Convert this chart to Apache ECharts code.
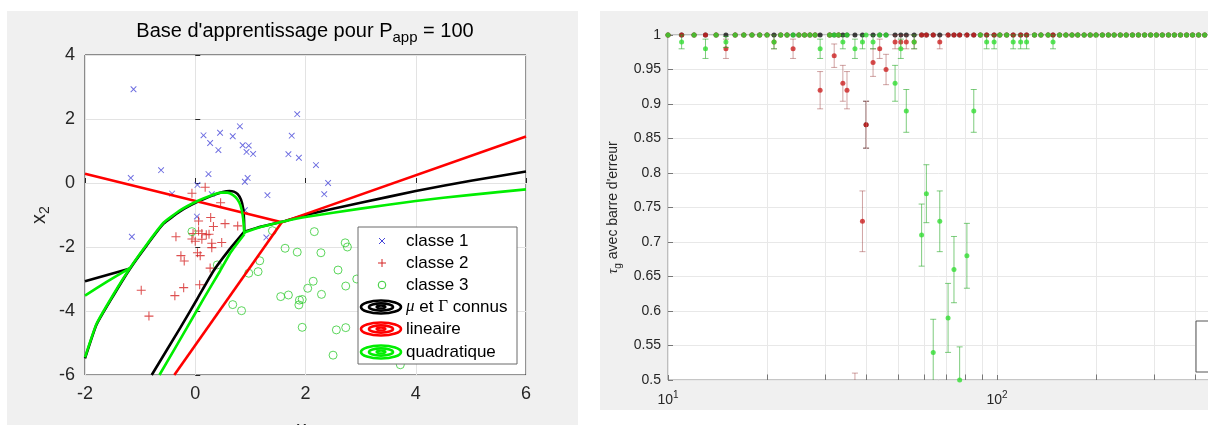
<!DOCTYPE html>
<html lang="fr">
<head>
<meta charset="utf-8">
<title>Base d'apprentissage et taux de generalisation</title>
</head>
<body style="margin: 0; background: #fff">
<div id="container" style="width: 1208px; height: 425px"></div>

<script type="text/javascript" src="https://cdn.jsdelivr.net/npm/echarts@6/dist/echarts.min.js"></script>

<script type="text/javascript">
var dom = document.getElementById('container');
var myChart = echarts.init(dom, null, { renderer: 'canvas' });

// ---------- left figure : base d'apprentissage (x1, x2) ----------
var classe1 = [
    [-1.12, 2.93], [1.85, 2.15], [0.81, 1.77], [0.15, 1.49], [0.45, 1.57], [0.68, 1.46],
    [1.75, 1.48], [0.27, 1.25], [0.86, 1.18], [0.97, 1.17], [0.42, 1.03], [0.93, 0.97],
    [1.05, 0.91], [1.69, 0.90], [1.88, 0.79], [2.19, 0.56], [-1.17, 0.16], [-0.62, 0.40],
    [0.24, 0.28], [0.95, 0.16], [0.90, 0.04], [2.41, 0.0], [0.04, -0.06], [-0.42, -0.33],
    [0.30, -0.35], [1.31, -0.38], [2.34, -0.35], [0.90, -0.85], [0.03, -1.05],
    [-1.15, -1.68], [1.29, -1.70]
];
var classe2 = [
    [0.18, -0.13], [-0.06, -0.32], [0.46, -0.62], [0.28, -1.08], [0.06, -1.19], [0.54, -1.27],
    [0.77, -1.34], [0.33, -1.36], [0.06, -1.50], [-0.35, -1.68], [-0.04, -1.58], [0.12, -1.58],
    [0.20, -1.62], [0.25, -1.60], [-0.06, -1.75], [0.0, -1.82], [0.12, -1.76], [0.30, -1.88],
    [0.48, -1.86], [0.30, -2.02], [0.04, -2.18], [0.09, -2.27], [-0.26, -2.27], [-0.20, -2.44],
    [0.27, -2.66], [-0.98, -3.35], [-0.21, -3.27], [-0.37, -3.52], [0.08, -3.18], [-0.84, -4.16]
];
var classe3 = [
    [-0.06, -1.52], [1.40, -1.49], [2.16, -1.52], [1.63, -2.04], [1.85, -2.16], [2.28, -2.18],
    [2.72, -1.87], [2.76, -2.0], [0.40, -2.56], [1.17, -2.43], [0.97, -2.82], [1.14, -2.77],
    [2.59, -2.72], [2.93, -3.0], [2.14, -3.07], [2.04, -3.29], [2.73, -3.22], [2.29, -3.48],
    [1.55, -3.55], [1.69, -3.50], [1.89, -3.66], [1.94, -3.64], [1.88, -3.81], [0.68, -3.80],
    [0.84, -3.99], [1.94, -4.51], [2.56, -4.59], [2.73, -4.52], [2.50, -5.38], [3.72, -5.68],
    [3.3, -2.6], [3.5, -3.9]
];

// frontieres de decision ("mu et Gamma connus")
var connusBoucle = [[-2, -5.48], [-1.79, -4.42], [-1.49, -3.53], [-1.18, -2.67], [-0.88, -1.95],
    [-0.58, -1.28], [-0.27, -0.88], [0.03, -0.6], [0.33, -0.38], [0.5, -0.28], [0.62, -0.25],
    [0.7, -0.27], [0.77, -0.35], [0.83, -0.52], [0.87, -0.8], [0.885, -1.15], [0.89, -1.52]];
var connusBas = [[0.89, -1.52], [0.6, -2.12], [0.33, -2.75], [0.03, -3.64], [-0.27, -4.52], [-0.79, -6]];
var connusGauche = [[-1.18, -2.67], [-2, -3.07]];
var connusDroite = [[0.89, -1.52], [1.2, -1.36], [1.6, -1.2], [2, -1.0], [3, -0.62], [4, -0.25], [5, 0.07], [6, 0.36]];

// lineaire
var linGauche = [[-2, 0.29], [1.57, -1.23]];
var linDroite = [[1.57, -1.23], [6, 1.45]];
var linBas = [[1.57, -1.23], [-0.38, -6]];

// quadratique
var quadBoucle = [[-2, -5.45], [-1.79, -4.4], [-1.49, -3.5], [-1.18, -2.65], [-0.88, -1.92],
    [-0.58, -1.25], [-0.27, -0.85], [0.03, -0.57], [0.3, -0.38], [0.46, -0.3], [0.58, -0.3],
    [0.68, -0.37], [0.76, -0.5], [0.82, -0.7], [0.86, -1.0], [0.88, -1.3], [0.89, -1.6]];
var quadBas = [[0.89, -1.6], [0.65, -2.15], [0.45, -2.75], [0.15, -3.62], [-0.15, -4.52], [-0.65, -6]];
var quadGauche = [[-1.18, -2.65], [-1.6, -3.08], [-2, -3.52]];
var quadDroite = [[0.89, -1.55], [1.2, -1.37], [1.6, -1.2], [2, -1.06], [3, -0.8], [4, -0.56], [5, -0.37], [6, -0.2]];

// ---------- right figure : tau_g en fonction de P_app ----------
var pApp = [
    10, 11, 12, 13, 14, 15, 16, 17, 18, 19,
    20, 21, 22, 23, 24, 25, 26, 27, 28, 29,
    31, 32, 33, 34, 35, 37, 39, 40, 42, 44,
    46, 49, 51, 53, 56, 59, 61, 64, 67, 71,
    74, 77, 81, 85, 89, 93, 98, 102, 107, 112,
    118, 123, 130, 136, 143, 148, 155, 162, 169, 176,
    184, 192, 200, 209, 218, 227, 237, 247, 258, 269,
    281, 293, 305, 318, 332, 346, 361, 377, 393, 410,
    428, 446
];
var tauConnus = [
    1, 1, 1, 1, 1, 1, 1, 1, 1, 1,
    1, 1, 1, 1, 1, 1, 1, 1, 1, 1,
    1, 1, 1, 1, 1, 1, 1, 0.87, 1, 1,
    1, 1, 1, 1, 1, 1, 1, 1, 1, 1,
    1, 1, 1, 1, 1, 1, 1, 1, 1, 1,
    1, 1, 1, 1, 1, 1, 1, 1, 1, 1,
    1, 1, 1, 1, 1, 1, 1, 1, 1, 1,
    1, 1, 1, 1, 1, 1, 1, 1, 1, 1,
    1, 1
];
var errConnus = [
    0, 0, 0, 0, 0, 0, 0, 0, 0, 0,
    0, 0, 0, 0, 0, 0, 0, 0, 0, 0,
    0, 0, 0, 0, 0, 0, 0, 0.034, 0, 0,
    0, 0, 0, 0, 0, 0, 0, 0, 0, 0,
    0, 0, 0, 0, 0, 0, 0, 0, 0, 0,
    0, 0, 0, 0, 0, 0, 0, 0, 0, 0,
    0, 0, 0, 0, 0, 0, 0, 0, 0, 0,
    0, 0, 0, 0, 0, 0, 0, 0, 0, 0,
    0, 0
];
var tauLin = [
    1, 1, 1, 1, 1, 0.98, 1, 1, 1, 1,
    1, 0.99, 1, 1, 0.98, 1, 1, 1, 1, 0.92,
    1, 0.97, 1, 0.93, 0.92, 0.46, 0.73, 0.87, 0.96, 0.98,
    0.95, 0.99, 0.99, 0.99, 0.99, 1, 1, 1, 0.99, 1,
    1, 1, 1, 1, 1, 1, 1, 1, 1, 1,
    1, 1, 1, 1, 1, 1, 1, 1, 1, 1,
    1, 1, 1, 1, 1, 1, 1, 1, 1, 1,
    1, 1, 1, 1, 1, 1, 1, 1, 1, 1,
    1, 1
];
var errLin = [
    0, 0, 0, 0, 0, 0.014, 0, 0, 0, 0,
    0, 0.01, 0, 0, 0.014, 0, 0, 0, 0, 0.027,
    0, 0.017, 0, 0.026, 0.027, 0.05, 0.044, 0.034, 0.02, 0.014,
    0.022, 0.01, 0.01, 0.01, 0.01, 0, 0, 0, 0.01, 0,
    0, 0, 0, 0, 0, 0, 0, 0, 0, 0,
    0, 0, 0, 0, 0, 0, 0, 0, 0, 0,
    0, 0, 0, 0, 0, 0, 0, 0, 0, 0,
    0, 0, 0, 0, 0, 0, 0, 0, 0, 0,
    0, 0
];
var tauQuad = [
    1, 0.99, 1, 0.98, 1, 0.99, 1, 1, 1, 1,
    1, 0.99, 1, 1, 1, 1, 1, 1, 1, 0.98,
    1, 1, 1, 0.99, 1, 0.98, 0.99, 1, 0.99, 1,
    1, 0.93, 0.98, 0.89, 0.99, 0.71, 0.77, 0.54, 0.73, 0.59,
    0.66, 0.50, 0.68, 0.89, 1, 0.99, 0.99, 1, 1, 0.99,
    0.99, 0.99, 1, 1, 1, 0.99, 1, 1, 1, 1,
    1, 1, 1, 1, 1, 1, 1, 1, 1, 1,
    1, 1, 1, 1, 1, 1, 1, 1, 1, 1,
    1, 1
];
var errQuad = [
    0, 0.01, 0, 0.014, 0, 0.008, 0, 0, 0, 0,
    0, 0.01, 0, 0, 0, 0, 0, 0, 0, 0.014,
    0, 0, 0, 0.01, 0, 0.014, 0.01, 0, 0.01, 0,
    0, 0.026, 0.014, 0.031, 0.01, 0.045, 0.042, 0.048, 0.044, 0.05,
    0.048, 0.048, 0.047, 0.031, 0, 0.01, 0.01, 0, 0, 0.01,
    0.01, 0.01, 0, 0, 0, 0.01, 0, 0, 0, 0,
    0, 0, 0, 0, 0, 0, 0, 0, 0, 0,
    0, 0, 0, 0, 0, 0, 0, 0, 0, 0,
    0, 0
];
var xTicksMineurs = [20, 30, 40, 50, 60, 70, 80, 90, 200, 300, 400, 500, 600, 700, 800, 900];

var SANS = '"Liberation Sans", Arial, Helvetica, sans-serif';
var SERIF = '"Liberation Serif", "DejaVu Serif", serif';

var plusPath = 'path://M-0.7,-6L0.7,-6L0.7,-0.7L6,-0.7L6,0.7L0.7,0.7L0.7,6L-0.7,6L-0.7,0.7L-6,0.7L-6,-0.7L-0.7,-0.7Z';

function points(ys, errs) {
    return pApp.map(function (p, i) {
        return errs ? [p, ys[i], errs[i]] : [p, ys[i]];
    });
}

// error bar drawn through the axes of the second grid
function errorBar(color) {
    return function (params, api) {
        var x = api.value(0), y = api.value(1), e = api.value(2);
        if (!e) return null;
        var cs = params.coordSys;
        var top = api.coord([x, y + e]);
        var bot = api.coord([x, y - e]);
        var yMin = cs.y, yMax = cs.y + cs.height;
        var y1 = Math.max(top[1], yMin), y2 = Math.min(bot[1], yMax);
        var style = { stroke: color, lineWidth: 1 };
        var children = [];
        if (y1 < y2) {
            children.push({ type: 'line', shape: { x1: top[0], y1: y1, x2: top[0], y2: y2 }, style: style });
        }
        if (top[1] >= yMin && top[1] <= yMax) {
            children.push({ type: 'line', shape: { x1: top[0] - 3, y1: top[1], x2: top[0] + 3, y2: top[1] }, style: style });
        }
        if (bot[1] >= yMin && bot[1] <= yMax) {
            children.push({ type: 'line', shape: { x1: bot[0] - 3, y1: bot[1], x2: bot[0] + 3, y2: bot[1] }, style: style });
        }
        return { type: 'group', children: children };
    };
}

function boundary(data, color, smooth) {
    return {
        type: 'line', xAxisIndex: 0, yAxisIndex: 0, data: data,
        showSymbol: false, smooth: smooth ? 0.15 : false, silent: true,
        lineStyle: { color: color, width: 2.6 }, z: 3
    };
}

var minorLines = xTicksMineurs.map(function (v) { return { xAxis: v }; });
var minorTicks = xTicksMineurs.map(function (v) { return [{ coord: [v, 0.5] }, { coord: [v, 0.508] }]; });

var option = {
    animation: false,
    backgroundColor: '#fff',
    graphic: [
        { type: 'rect', shape: { x: 7, y: 11, width: 571, height: 414 }, style: { fill: '#f0f0f0' }, z: -100 },
        { type: 'rect', shape: { x: 600, y: 11, width: 608, height: 399 }, style: { fill: '#f0f0f0' }, z: -100 },
        {
            type: 'text', z: 50,
            style: {
                x: 305, y: 31, textAlign: 'center', textVerticalAlign: 'middle',
                text: "Base d'apprentissage pour P{s|app} = 100",
                font: '20px ' + SANS, fill: '#000',
                rich: { s: { fontSize: 15, fontFamily: SANS, padding: [14, 0, 0, 0] } }
            }
        },
        // legende gauche
        { type: 'rect', shape: { x: 358, y: 227, width: 159, height: 137 }, style: { fill: '#fff', stroke: '#6b6b6b', lineWidth: 1 }, z: 100 },
        { type: 'line', shape: { x1: 379, y1: 238, x2: 385, y2: 244 }, style: { stroke: '#4646d8', lineWidth: 1 }, z: 101 },
        { type: 'line', shape: { x1: 379, y1: 244, x2: 385, y2: 238 }, style: { stroke: '#4646d8', lineWidth: 1 }, z: 101 },
        { type: 'line', shape: { x1: 378, y1: 263, x2: 386, y2: 263 }, style: { stroke: '#d42424', lineWidth: 1 }, z: 101 },
        { type: 'line', shape: { x1: 382, y1: 259, x2: 382, y2: 267 }, style: { stroke: '#d42424', lineWidth: 1 }, z: 101 },
        { type: 'circle', shape: { cx: 382, cy: 285, r: 3.8 }, style: { fill: 'none', stroke: '#33cc33', lineWidth: 1 }, z: 101 },
        { type: 'ellipse', shape: { cx: 381, cy: 307, rx: 20, ry: 6.5 }, style: { fill: 'none', stroke: '#000', lineWidth: 2.6 }, z: 101 },
        { type: 'ellipse', shape: { cx: 381, cy: 307, rx: 12, ry: 3.6 }, style: { fill: 'none', stroke: '#000', lineWidth: 2.6 }, z: 101 },
        { type: 'ellipse', shape: { cx: 381, cy: 307, rx: 4.5, ry: 1.3 }, style: { fill: 'none', stroke: '#000', lineWidth: 2.2 }, z: 101 },
        { type: 'ellipse', shape: { cx: 381, cy: 329, rx: 20, ry: 6.5 }, style: { fill: 'none', stroke: '#ff0000', lineWidth: 2.6 }, z: 101 },
        { type: 'ellipse', shape: { cx: 381, cy: 329, rx: 12, ry: 3.6 }, style: { fill: 'none', stroke: '#ff0000', lineWidth: 2.6 }, z: 101 },
        { type: 'ellipse', shape: { cx: 381, cy: 329, rx: 4.5, ry: 1.3 }, style: { fill: 'none', stroke: '#ff0000', lineWidth: 2.2 }, z: 101 },
        { type: 'ellipse', shape: { cx: 381, cy: 352, rx: 20, ry: 6.5 }, style: { fill: 'none', stroke: '#00ee00', lineWidth: 2.6 }, z: 101 },
        { type: 'ellipse', shape: { cx: 381, cy: 352, rx: 12, ry: 3.6 }, style: { fill: 'none', stroke: '#00ee00', lineWidth: 2.6 }, z: 101 },
        { type: 'ellipse', shape: { cx: 381, cy: 352, rx: 4.5, ry: 1.3 }, style: { fill: 'none', stroke: '#00ee00', lineWidth: 2.2 }, z: 101 },
        { type: 'text', z: 101, style: { x: 406, y: 241, text: 'classe 1', font: '17px ' + SANS, fill: '#000', textVerticalAlign: 'middle' } },
        { type: 'text', z: 101, style: { x: 406, y: 263, text: 'classe 2', font: '17px ' + SANS, fill: '#000', textVerticalAlign: 'middle' } },
        { type: 'text', z: 101, style: { x: 406, y: 285, text: 'classe 3', font: '17px ' + SANS, fill: '#000', textVerticalAlign: 'middle' } },
        {
            type: 'text', z: 101,
            style: {
                x: 406, y: 307, textVerticalAlign: 'middle', font: '17px ' + SANS, fill: '#000',
                text: '{m|\u03bc} et {g|\u0393} connus',
                rich: {
                    m: { fontFamily: SERIF, fontStyle: 'italic', fontSize: 17 },
                    g: { fontFamily: SERIF, fontSize: 17 }
                }
            }
        },
        { type: 'text', z: 101, style: { x: 406, y: 329, text: 'lineaire', font: '17px ' + SANS, fill: '#000', textVerticalAlign: 'middle' } },
        { type: 'text', z: 101, style: { x: 406, y: 352, text: 'quadratique', font: '17px ' + SANS, fill: '#000', textVerticalAlign: 'middle' } },
        // legende droite (coupee par le bord)
        { type: 'rect', shape: { x: 1196, y: 321, width: 60, height: 51 }, style: { fill: '#fff', stroke: '#555', lineWidth: 1 }, z: 100 }
    ],
    grid: [
        {
            left: 85, top: 55, width: 441, height: 320, outerBoundsMode: 'none',
            show: true, backgroundColor: '#fff', borderColor: '#262626', borderWidth: 1
        },
        {
            left: 668, top: 35, width: 658, height: 345, outerBoundsMode: 'none',
            show: true, backgroundColor: '#fff', borderColor: '#8c8c8c', borderWidth: 1
        }
    ],
    xAxis: [
        {
            type: 'value', gridIndex: 0, min: -2, max: 6, interval: 2,
            name: '{n|x}{s|1}', nameLocation: 'middle', nameGap: 41,
            nameTextStyle: {
                fontSize: 20, fontFamily: SANS, color: '#262626',
                rich: { n: { fontSize: 20, fontFamily: SANS }, s: { fontSize: 14, fontFamily: SANS, padding: [12, 0, 0, 0] } }
            },
            axisLine: { show: false },
            axisTick: { inside: true, length: 5, lineStyle: { color: '#262626' } },
            axisLabel: { fontSize: 18, fontFamily: SANS, color: '#262626', margin: 10 },
            splitLine: { lineStyle: { color: '#e3e3e3' } }
        },
        {
            type: 'log', gridIndex: 1, min: 10, max: 1000, logBase: 10,
            axisLine: { show: false },
            axisTick: { inside: true, length: 5, lineStyle: { color: '#777' } },
            axisLabel: {
                fontSize: 14, fontFamily: SANS, color: '#262626', margin: 10,
                formatter: function (v) {
                    return '10{p|' + Math.round(Math.log10(v)) + '}';
                },
                rich: { p: { fontSize: 10, fontFamily: SANS, padding: [0, 0, 10, 0] } }
            },
            splitLine: { lineStyle: { color: '#e8e8e8' } }
        }
    ],
    yAxis: [
        {
            type: 'value', gridIndex: 0, min: -6, max: 4, interval: 2,
            name: '{n|x}{s|2}', nameLocation: 'middle', nameGap: 33, nameRotate: 90,
            nameTextStyle: {
                fontSize: 20, fontFamily: SANS, color: '#262626',
                rich: { n: { fontSize: 20, fontFamily: SANS }, s: { fontSize: 14, fontFamily: SANS, padding: [12, 0, 0, 0] } }
            },
            axisLine: { show: false },
            axisTick: { inside: true, length: 5, lineStyle: { color: '#262626' } },
            axisLabel: { fontSize: 18, fontFamily: SANS, color: '#262626', margin: 10 },
            splitLine: { lineStyle: { color: '#e3e3e3' } }
        },
        {
            type: 'value', gridIndex: 1, min: 0.5, max: 1, interval: 0.05,
            name: '{t|\u03c4}{s|g} avec barre d\'erreur', nameLocation: 'middle', nameGap: 38, nameRotate: 90,
            nameTextStyle: {
                fontSize: 14, fontFamily: SANS, color: '#262626',
                rich: {
                    t: { fontSize: 14, fontFamily: SERIF, fontStyle: 'italic' },
                    s: { fontSize: 10, fontFamily: SANS, padding: [9, 0, 0, 0] }
                }
            },
            axisLine: { show: false },
            axisTick: { inside: true, length: 5, lineStyle: { color: '#777' } },
            axisLabel: { fontSize: 14, fontFamily: SANS, color: '#262626', margin: 7 },
            splitLine: { lineStyle: { color: '#e8e8e8' } }
        }
    ],
    series: [
        // ----- left -----
        {
            name: 'classe 1', type: 'scatter', xAxisIndex: 0, yAxisIndex: 0, data: classe1,
            symbol: plusPath, symbolRotate: 45, symbolSize: 8, silent: true,
            itemStyle: { color: '#4646d8' }, z: 2
        },
        {
            name: 'classe 2', type: 'scatter', xAxisIndex: 0, yAxisIndex: 0, data: classe2,
            symbol: plusPath, symbolSize: 9, silent: true,
            itemStyle: { color: '#d42424' }, z: 2
        },
        {
            name: 'classe 3', type: 'scatter', xAxisIndex: 0, yAxisIndex: 0, data: classe3,
            symbol: 'circle', symbolSize: 8, silent: true,
            itemStyle: { color: 'rgba(0,0,0,0)', borderColor: '#33cc33', borderWidth: 1 }, z: 2
        },
        boundary(connusBoucle, '#000', true),
        boundary(connusBas, '#000', true),
        boundary(connusGauche, '#000', false),
        boundary(connusDroite, '#000', true),
        boundary(linGauche, '#ff0000', false),
        boundary(linDroite, '#ff0000', false),
        boundary(linBas, '#ff0000', false),
        boundary(quadBoucle, '#00ee00', true),
        boundary(quadBas, '#00ee00', true),
        boundary(quadGauche, '#00ee00', true),
        boundary(quadDroite, '#00ee00', true),

        // ----- right -----
        {
            type: 'custom', xAxisIndex: 1, yAxisIndex: 1, data: points(tauConnus, errConnus),
            renderItem: errorBar('rgba(40,40,40,0.6)'), encode: { x: 0, y: 1 }, silent: true, z: 3,
            markLine: {
                silent: true, symbol: ['none', 'none'], label: { show: false },
                lineStyle: { color: '#e8e8e8', type: 'solid', width: 1 },
                data: minorLines
            }
        },
        {
            name: 'mu et Gamma connus', type: 'scatter', xAxisIndex: 1, yAxisIndex: 1, data: points(tauConnus),
            symbolSize: 5, itemStyle: { color: '#111' }, silent: true, z: 4,
            markLine: {
                silent: true, symbol: ['none', 'none'], label: { show: false },
                lineStyle: { color: '#777', type: 'solid', width: 1 },
                data: minorTicks
            }
        },
        {
            type: 'custom', xAxisIndex: 1, yAxisIndex: 1, data: points(tauLin, errLin),
            renderItem: errorBar('rgba(150,50,50,0.45)'), encode: { x: 0, y: 1 }, silent: true, z: 5
        },
        {
            name: 'lineaire', type: 'scatter', xAxisIndex: 1, yAxisIndex: 1, data: points(tauLin),
            symbolSize: 5, itemStyle: { color: '#cc2020' }, silent: true, z: 6
        },
        {
            type: 'custom', xAxisIndex: 1, yAxisIndex: 1, data: points(tauQuad, errQuad),
            renderItem: errorBar('rgba(40,170,40,0.6)'), encode: { x: 0, y: 1 }, silent: true, z: 7
        },
        {
            name: 'quadratique', type: 'scatter', xAxisIndex: 1, yAxisIndex: 1, data: points(tauQuad),
            symbolSize: 5, itemStyle: { color: '#33dd33' }, silent: true, z: 8
        }
    ]
};

myChart.setOption(option);
window.addEventListener('resize', myChart.resize);
</script>
</body>
</html>
